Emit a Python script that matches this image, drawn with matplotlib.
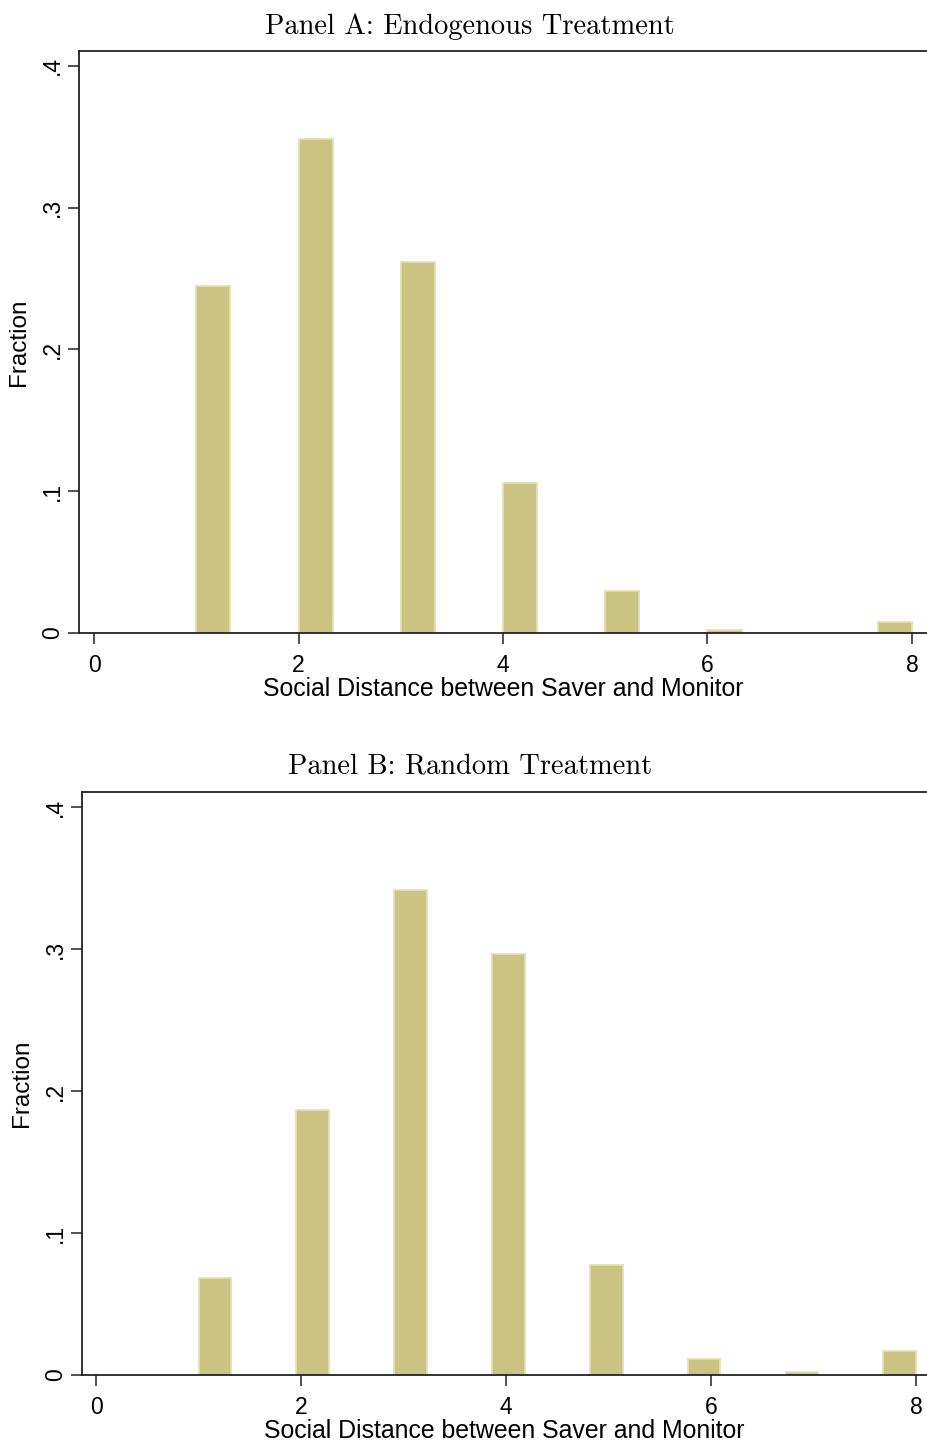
import numpy as np
import matplotlib
matplotlib.use("Agg")
import matplotlib.pyplot as plt

# social distance values and their fraction in each treatment
distance = [1, 2, 3, 4, 5, 6, 7, 8]
frac_endog = [0.2445, 0.348, 0.2614, 0.106, 0.0294, 0.0019, 0.0, 0.0078]
frac_random = [0.0685, 0.1864, 0.3418, 0.2965, 0.0775, 0.0113, 0.002, 0.0171]

# stata style binning: number of bins between min and max of the data
nbins_endog = 21
nbins_random = 22

titles = ["Panel A: Endogenous Treatment", "Panel B: Random Treatment"]
xlabel = "Social Distance between Saver and Monitor"
ylabel = "Fraction"
xticks = [0, 2, 4, 6, 8]
yticks = [0, 0.1, 0.2, 0.3, 0.4]
yticklabels = ["0", ".1", ".2", ".3", ".4"]

bar_fill = "#CBC381"
bar_edge = "#E3E0B0"

plt.rcParams['font.family'] = ['Liberation Sans', 'DejaVu Sans']

W, H = 927, 1443
fig = plt.figure(figsize=(W / 100, H / 100), dpi=100)

def draw_panel(rect, values, nbins, title, title_y, xlim, ylim):
    ax = fig.add_axes(rect)
    lo, hi = min(distance), max(distance)
    w = (hi - lo) / nbins
    for v, f in zip(distance, values):
        if f <= 0:
            continue
        idx = min(int(np.floor((v - lo) / w + 1e-9)), nbins - 1)
        ax.bar(lo + idx * w, f, width=w, align='edge', color=bar_fill,
               edgecolor=bar_edge, linewidth=1.3, zorder=2)
    ax.set_xlim(*xlim)
    ax.set_ylim(*ylim)
    ax.set_xticks(xticks)
    ax.set_xticklabels([str(t) for t in xticks], fontsize=16.5)
    ax.set_yticks(yticks)
    ax.set_yticklabels(yticklabels, fontsize=16.5, rotation=90, va='center')
    ax.tick_params(axis='both', length=8, width=1.2, color='#333333')
    ax.tick_params(axis='x', pad=7)
    ax.tick_params(axis='y', pad=3)
    ax.spines['right'].set_visible(False)
    for s in ['left', 'top', 'bottom']:
        ax.spines[s].set_linewidth(1.3)
        ax.spines[s].set_color('#222222')
    ax.set_xlabel(xlabel, fontsize=17.9, labelpad=0)
    ax.set_ylabel(ylabel, fontsize=17.5, labelpad=8)
    fig.text(470 / W, 1 - title_y / H, title, fontsize=20.5, family='cmr10',
             ha='center', va='baseline')
    return ax

draw_panel([0.0852, 0.5613, 0.9148, 0.4033], frac_endog, nbins_endog, titles[0], 34,
           (-0.147, 8.147), (0, 0.4103))
draw_panel([0.0885, 0.0471, 0.9115, 0.404], frac_random, nbins_random, titles[1], 773,
           (-0.137, 8.107), (0, 0.4106))

fig.savefig("out.png", dpi=100)
